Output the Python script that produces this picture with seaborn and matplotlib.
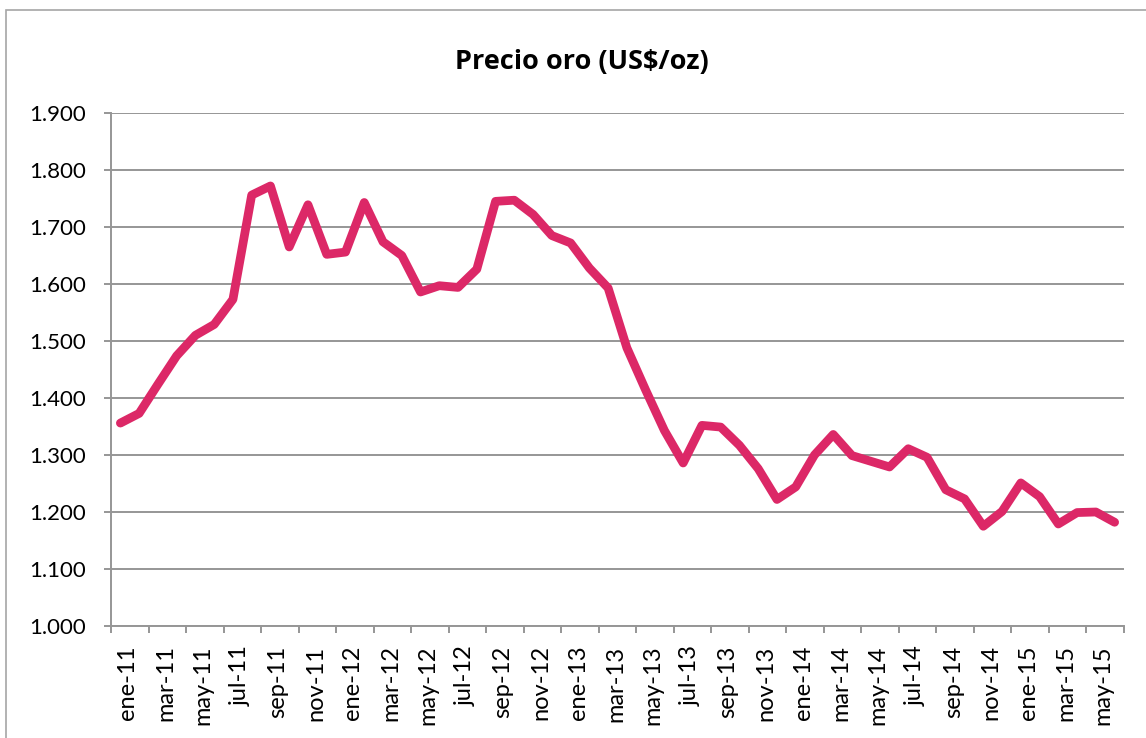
import numpy as np
import pandas as pd
import matplotlib
matplotlib.use("Agg")
import matplotlib.pyplot as plt
import seaborn as sns
from matplotlib.patches import Rectangle
from matplotlib.ticker import FuncFormatter, FixedLocator

# monthly average gold price, ene-11 .. jun-15
meses = ["ene", "feb", "mar", "abr", "may", "jun", "jul", "ago", "sep", "oct", "nov", "dic"]
anios = ["11", "12", "13", "14", "15"]
fechas = [m + "-" + a for a in anios for m in meses][:54]

precio = [1356, 1373, 1424, 1474, 1510, 1529, 1573, 1756, 1772, 1665, 1739, 1652,
          1656, 1743, 1674, 1650, 1586, 1597, 1594, 1626, 1745, 1747, 1722, 1685,
          1672, 1628, 1593, 1488, 1414, 1343, 1286, 1352, 1349, 1317, 1276, 1222,
          1244, 1300, 1336, 1299, 1289, 1279, 1311, 1296, 1239, 1223, 1175, 1201,
          1251, 1227, 1179, 1199, 1200, 1182]

df = pd.DataFrame({"mes": np.arange(len(precio)), "fecha": fechas, "precio": precio})

sns.set_style("white")
plt.rcParams["font.family"] = ["Lato", "DejaVu Sans"]

fig = plt.figure(figsize=(11.46, 7.38), dpi=100)
ax = fig.add_axes([111 / 1146, 1 - 626 / 738, (1124 - 111) / 1146, (626 - 113) / 738])

# outer chart border
fig.patches.append(Rectangle((6 / 1146, -0.1), 1.2, 1.1 - 10 / 738,
                             transform=fig.transFigure, fill=False,
                             edgecolor="#a6a6a6", linewidth=1.2))

sns.lineplot(data=df, x="mes", y="precio", ax=ax, color="#DC2867", linewidth=6.3,
             solid_capstyle="round", solid_joinstyle="round")

ax.set_xlim(-0.5, len(precio) - 0.5)
ax.set_ylim(1000, 1900)
ax.set_yticks(np.arange(1000, 1901, 100))
ax.yaxis.set_major_formatter(FuncFormatter(lambda v, p: f"{v:,.0f}".replace(",", ".")))
ax.grid(axis="y", color="#969696", linewidth=1.4)
ax.set_axisbelow(True)

pos_lab = np.arange(0, len(precio), 2)
ax.set_xticks(pos_lab + 0.4)
ax.set_xticklabels([fechas[i] for i in pos_lab], rotation=90, fontsize=17)
ax.xaxis.set_minor_locator(FixedLocator(np.arange(-0.5, len(precio), 2)))
ax.tick_params(axis="x", which="major", length=0, pad=14)
ax.tick_params(axis="x", which="minor", length=5, width=1.4, color="#969696", bottom=True)
ax.tick_params(axis="y", which="major", length=5, width=1.4, color="#969696", labelsize=16, pad=13, left=True)
for t in ax.get_xticklabels() + ax.get_yticklabels():
    t.set_color("black")

for s in ["top", "right"]:
    ax.spines[s].set_visible(False)
for s in ["left", "bottom"]:
    ax.spines[s].set_color("#969696")
    ax.spines[s].set_linewidth(1.4)

ax.set_xlabel("")
ax.set_ylabel("")
fig.text(582 / 1146, 1 - 62 / 738, "Precio oro (US$/oz)", ha="center", va="center",
         fontsize=19.5, fontweight="bold", color="black", family=["Open Sans", "DejaVu Sans"])

fig.savefig("out.png", dpi=100)
